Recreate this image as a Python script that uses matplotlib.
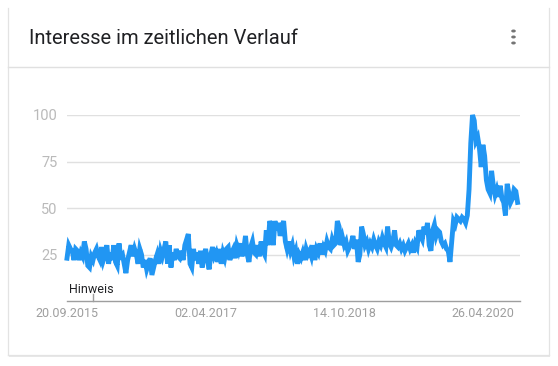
import matplotlib
matplotlib.use("Agg")
import matplotlib.pyplot as plt
from matplotlib.patches import Rectangle
from matplotlib.lines import Line2D

plt.rcParams['font.family'] = ['Roboto', 'DejaVu Sans']

# Weekly interest values (index 0 = 20.09.2015)
values = [
    23, 30, 28, 27, 22, 28, 27, 22, 26, 24,
    32, 28, 19, 18, 24, 22, 26, 28, 24, 22,
    29, 22, 25, 30, 20, 26, 22, 30, 21, 19,
    31, 24, 25, 20, 15, 22, 26, 30, 24, 28,
    25, 20, 28, 25, 18, 22, 17, 20, 23, 14,
    18, 22, 25, 20, 27, 24, 28, 32, 20, 30,
    18, 26, 22, 28, 24, 23, 27, 22, 30, 33,
    36, 20, 18, 28, 22, 26, 20, 27, 18, 24,
    28, 22, 17, 25, 29, 24, 26, 21, 28, 20,
    26, 23, 28, 29, 22, 26, 28, 23, 30, 27,
    31, 24, 28, 35, 25, 21, 29, 32, 26, 25,
    30, 24, 32, 27, 25, 38, 30, 43, 40, 30,
    43, 38, 42, 35, 40, 43, 32, 28, 32, 27,
    30, 24, 27, 20, 25, 23, 26, 22, 28, 25,
    27, 24, 30, 22, 28, 26, 31, 25, 29, 27,
    32, 29, 28, 33, 30, 31, 43, 40, 30, 34,
    30, 32, 27, 29, 31, 35, 28, 33, 21, 25,
    40, 36, 30, 32, 28, 31, 29, 33, 30, 28,
    32, 30, 34, 31, 29, 40, 31, 29, 32, 38,
    30, 29, 31, 28, 30, 27, 29, 31, 28, 30,
    26, 31, 29, 38, 35, 33, 40, 36, 42, 30,
    27, 38, 41, 35, 38, 37, 32, 30, 31, 28,
    27, 21, 32, 43, 41, 45, 44, 43, 45, 44,
    42, 46, 60, 85, 100, 97, 86, 88, 82, 72,
    84, 78, 65, 60, 58, 70, 62, 57, 60, 56,
    62, 55, 53, 46, 63, 58, 53, 55, 60, 59,
    53,
]
tick_positions = [0, 80, 160, 240]
tick_labels = ["20.09.2015", "02.04.2017", "14.10.2018", "26.04.2020"]
y_ticks = [25, 50, 75, 100]
note_index = 15
title = "Interesse im zeitlichen Verlauf"

W, H = 558, 366
fig = plt.figure(figsize=(W / 100, H / 100), dpi=100)
fig.patch.set_facecolor("white")

def fx(px):
    return px / W

def fy(py):
    return 1 - py / H

# card with soft shadow, no visible top border
fig.patches.append(Rectangle((fx(9), fy(357)), fx(541), fy(11) - fy(357), transform=fig.transFigure,
                             facecolor="#e8e8e8", edgecolor="none", zorder=-3))
fig.patches.append(Rectangle((fx(8), fy(355)), fx(541), fy(0) - fy(355), transform=fig.transFigure,
                             facecolor="white", edgecolor="none", zorder=-2))
for xs, ys in (([8, 8], [8, 355]), ([549, 549], [8, 355]), ([8, 549], [355, 355])):
    fig.lines.append(Line2D([fx(v) for v in xs], [fy(v) for v in ys], transform=fig.transFigure,
                            color="#e3e3e3", linewidth=0.9, zorder=-1))
fig.lines.append(Line2D([fx(8), fx(549)], [fy(67), fy(67)], transform=fig.transFigure,
                        color="#e0e0e0", linewidth=1.0, zorder=-1))

fig.text(fx(29), fy(39), title, fontsize=14.5, color="#202124", va="center", ha="left")
for dy in (31, 37, 43):
    fig.patches.append(plt.Circle((fx(513.5), fy(dy)), 2.3 / W, transform=fig.transFigure,
                                  facecolor="#757575", edgecolor="none", zorder=-1))

ax = fig.add_axes([fx(67), fy(301), fx(520) - fx(67), fy(115) - fy(301)])
ax.set_zorder(1)
ax.set_facecolor("none")
x = list(range(len(values)))
ax.plot(x, values, color="#2196F3", linewidth=3.5, solid_joinstyle="miter", clip_on=False, zorder=3)
ax.set_xlim(0, 261.4)
ax.set_ylim(0, 100)

for t in y_ticks:
    ax.axhline(t, color="#e0e0e0", linewidth=1.0, zorder=1)
ax.set_yticks(y_ticks)
ax.set_yticklabels([str(t) for t in y_ticks], fontsize=10.5, color="#bababa")
ax.set_xticks(tick_positions)
ax.set_xticklabels(tick_labels, fontsize=9, color="#9e9e9e")
ax.tick_params(axis="both", length=0)
ax.tick_params(axis="y", pad=7)
ax.tick_params(axis="x", pad=4)
for s in ["top", "right", "left"]:
    ax.spines[s].set_visible(False)
ax.spines["bottom"].set_color("#9e9e9e")
ax.spines["bottom"].set_linewidth(1.0)

ax.plot([note_index, note_index], [0, 4], color="#9e9e9e", linewidth=1.0, clip_on=False, zorder=2)
ax.text(1, 6, "Hinweis", fontsize=9, color="#202124", ha="left", va="center")

fig.savefig("out.png", dpi=100, facecolor="white")
